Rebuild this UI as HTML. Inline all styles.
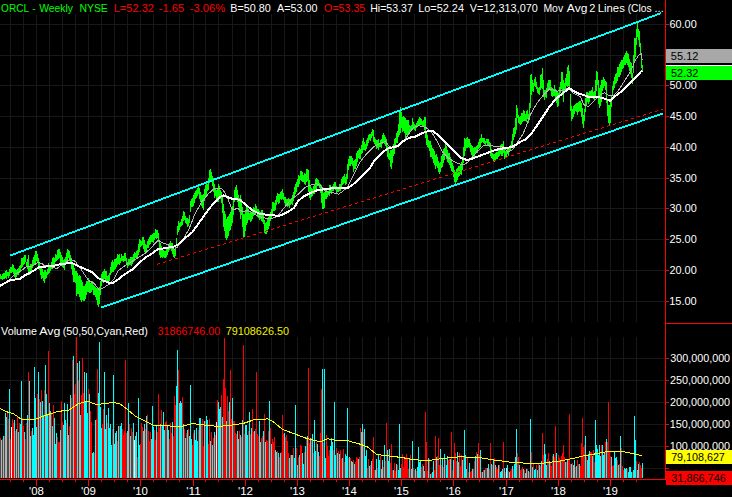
<!DOCTYPE html>
<html><head><meta charset="utf-8"><title>ORCL Weekly</title>
<style>html,body{margin:0;padding:0;background:#000;width:732px;height:497px;overflow:hidden}svg{display:block}
text{font-family:"Liberation Sans",sans-serif}</style></head>
<body><svg width="732" height="497" viewBox="0 0 732 497" shape-rendering="crispEdges"><path d="M0 24.5H665M0 55.5H665M0 85.5H665M0 116.5H665M0 147.5H665M0 178.5H665M0 208.5H665M0 239.5H665M0 270.5H665M0 301.5H665M0 358.5H665M0 380.5H665M0 402.5H665M0 424.5H665M0 446.5H665M0 468.5H665M10.5 14V322M10.5 337V478M23.5 14V322M23.5 337V478M36.5 14V322M36.5 337V478M49.5 14V322M49.5 337V478M62.5 14V322M62.5 337V478M75.5 14V322M75.5 337V478M88.5 14V322M88.5 337V478M101.5 14V322M101.5 337V478M114.5 14V322M114.5 337V478M127.5 14V322M127.5 337V478M140.5 14V322M140.5 337V478M153.5 14V322M153.5 337V478M166.5 14V322M166.5 337V478M179.5 14V322M179.5 337V478M193.5 14V322M193.5 337V478M205.5 14V322M205.5 337V478M218.5 14V322M218.5 337V478M232.5 14V322M232.5 337V478M245.5 14V322M245.5 337V478M258.5 14V322M258.5 337V478M271.5 14V322M271.5 337V478M284.5 14V322M284.5 337V478M297.5 14V322M297.5 337V478M310.5 14V322M310.5 337V478M323.5 14V322M323.5 337V478M336.5 14V322M336.5 337V478M349.5 14V322M349.5 337V478M362.5 14V322M362.5 337V478M375.5 14V322M375.5 337V478M388.5 14V322M388.5 337V478M401.5 14V322M401.5 337V478M414.5 14V322M414.5 337V478M427.5 14V322M427.5 337V478M440.5 14V322M440.5 337V478M453.5 14V322M453.5 337V478M466.5 14V322M466.5 337V478M479.5 14V322M479.5 337V478M493.5 14V322M493.5 337V478M506.5 14V322M506.5 337V478M519.5 14V322M519.5 337V478M532.5 14V322M532.5 337V478M545.5 14V322M545.5 337V478M558.5 14V322M558.5 337V478M571.5 14V322M571.5 337V478M584.5 14V322M584.5 337V478M597.5 14V322M597.5 337V478M610.5 14V322M610.5 337V478M623.5 14V322M623.5 337V478M636.5 14V322M636.5 337V478" stroke="#181818" stroke-width="1" fill="none"/><path d="M0.5 274V279M1.5 276V279M2.5 274V280M3.5 273V279M4.5 273V279M5.5 271V278M6.5 270V279M7.5 272V276M8.5 272V278M9.5 269V276M10.5 267V273M11.5 267V273M12.5 264V272M13.5 265V274M14.5 268V277M15.5 269V278M16.5 270V277M17.5 269V275M18.5 268V275M19.5 266V273M20.5 265V271M21.5 258V268M22.5 258V267M23.5 257V265M24.5 255V264M25.5 255V262M26.5 262V267M27.5 259V269M28.5 255V273M29.5 266V275M30.5 264V273M31.5 264V272M32.5 260V268M33.5 257V266M34.5 255V264M35.5 251V263M36.5 251V261M37.5 254V263M38.5 258V266M39.5 263V270M40.5 268V275M41.5 268V279M42.5 269V278M43.5 272V281M44.5 270V283M45.5 270V279M46.5 272V278M47.5 269V275M48.5 263V274M49.5 265V273M50.5 267V271M51.5 262V269M52.5 258V269M53.5 257V265M54.5 258V266M55.5 254V262M56.5 255V261M57.5 250V260M58.5 249V259M59.5 249V258M60.5 252V263M61.5 255V264M62.5 257V267M63.5 260V268M64.5 259V270M65.5 257V265M66.5 253V264M67.5 249V260M68.5 250V258M69.5 251V261M70.5 255V264M71.5 258V269M72.5 263V275M73.5 264V282M74.5 268V282M75.5 271V283M76.5 271V296M77.5 273V294M78.5 276V294M79.5 275V297M80.5 276V300M81.5 280V302M82.5 282V300M83.5 286V301M84.5 286V301M85.5 284V299M86.5 281V295M87.5 281V292M88.5 278V292M89.5 282V293M90.5 283V293M91.5 283V292M92.5 281V290M93.5 285V295M94.5 286V295M95.5 287V297M96.5 288V300M97.5 288V305M98.5 288V307M99.5 287V304M100.5 281V295M101.5 274V286M102.5 272V282M103.5 271V283M104.5 269V279M105.5 271V280M106.5 271V282M107.5 276V283M108.5 275V282M109.5 273V281M110.5 267V275M111.5 262V273M112.5 260V272M113.5 262V272M114.5 259V270M115.5 259V269M116.5 258V267M117.5 254V265M118.5 255V264M119.5 254V265M120.5 258V263M121.5 254V261M122.5 256V261M123.5 256V262M124.5 253V261M125.5 253V261M126.5 258V264M127.5 262V268M128.5 259V266M129.5 259V265M130.5 257V265M131.5 257V266M132.5 257V264M133.5 254V262M134.5 252V261M135.5 253V258M136.5 251V258M137.5 250V257M138.5 244V255M139.5 239V252M140.5 240V247M141.5 241V246M142.5 237V245M143.5 237V249M144.5 240V252M145.5 244V253M146.5 245V251M147.5 241V248M148.5 239V248M149.5 237V245M150.5 235V244M151.5 235V242M152.5 234V242M153.5 233V243M154.5 233V240M155.5 229V238M156.5 230V239M157.5 230V238M158.5 233V242M159.5 240V255M160.5 243V258M161.5 246V257M162.5 250V258M163.5 250V257M164.5 251V258M165.5 251V258M166.5 247V257M167.5 247V255M168.5 246V252M169.5 243V250M170.5 241V249M171.5 243V251M172.5 243V254M173.5 247V257M174.5 250V258M175.5 247V256M176.5 238V246M177.5 226V235M178.5 221V232M179.5 223V230M180.5 222V227M181.5 219V226M182.5 216V225M183.5 211V221M184.5 212V220M185.5 216V223M186.5 218V224M187.5 218V227M188.5 219V226M189.5 215V223M190.5 201V212M191.5 199V207M192.5 198V207M193.5 195V206M194.5 193V203M195.5 191V199M196.5 190V198M197.5 188V196M198.5 186V194M199.5 188V199M200.5 192V202M201.5 195V206M202.5 195V208M203.5 194V210M204.5 189V201M205.5 185V198M206.5 183V195M207.5 184V191M208.5 178V190M209.5 170V183M210.5 169V182M211.5 172V182M212.5 176V186M213.5 178V192M214.5 184V198M215.5 189V196M216.5 190V200M217.5 189V202M218.5 184V202M219.5 186V199M220.5 190V199M221.5 192V203M222.5 196V213M223.5 204V227M224.5 211V231M225.5 214V238M226.5 219V240M227.5 217V238M228.5 216V236M229.5 214V231M230.5 212V230M231.5 207V226M232.5 206V223M233.5 198V215M234.5 190V202M235.5 187V199M236.5 185V198M237.5 190V202M238.5 195V207M239.5 198V212M240.5 195V219M241.5 199V215M242.5 207V227M243.5 214V237M244.5 214V237M245.5 210V231M246.5 207V225M247.5 207V223M248.5 209V220M249.5 213V220M250.5 211V222M251.5 212V221M252.5 210V219M253.5 207V216M254.5 208V215M255.5 204V214M256.5 206V213M257.5 209V217M258.5 209V218M259.5 211V220M260.5 212V219M261.5 210V221M262.5 210V222M263.5 214V224M264.5 220V233M265.5 223V234M266.5 222V234M267.5 218V232M268.5 217V229M269.5 214V226M270.5 212V221M271.5 209V218M272.5 202V214M273.5 202V211M274.5 203V211M275.5 200V210M276.5 196V205M277.5 193V202M278.5 194V204M279.5 194V203M280.5 192V199M281.5 191V200M282.5 189V199M283.5 193V200M284.5 197V203M285.5 197V206M286.5 199V205M287.5 199V207M288.5 198V206M289.5 199V208M290.5 199V205M291.5 198V204M292.5 195V205M293.5 192V201M294.5 187V196M295.5 184V194M296.5 182V192M297.5 179V187M298.5 175V187M299.5 176V184M300.5 171V180M301.5 171V181M302.5 172V182M303.5 175V182M304.5 173V184M305.5 174V185M306.5 169V182M307.5 169V181M308.5 170V192M309.5 180V198M310.5 185V200M311.5 188V197M312.5 189V196M313.5 186V194M314.5 185V194M315.5 179V190M316.5 178V189M317.5 179V186M318.5 180V186M319.5 183V188M320.5 184V193M321.5 185V203M322.5 191V209M323.5 193V209M324.5 192V208M325.5 189V199M326.5 190V199M327.5 192V197M328.5 191V195M329.5 185V196M330.5 185V192M331.5 188V194M332.5 186V191M333.5 184V191M334.5 182V188M335.5 182V190M336.5 186V193M337.5 188V192M338.5 188V192M339.5 184V191M340.5 184V191M341.5 179V187M342.5 177V185M343.5 176V184M344.5 174V183M345.5 177V185M346.5 174V184M347.5 164V179M348.5 159V170M349.5 156V166M350.5 156V166M351.5 156V164M352.5 158V166M353.5 161V172M354.5 160V169M355.5 159V169M356.5 153V166M357.5 151V162M358.5 150V158M359.5 148V159M360.5 149V159M361.5 145V154M362.5 141V153M363.5 138V150M364.5 142V150M365.5 144V151M366.5 140V149M367.5 138V146M368.5 135V143M369.5 134V140M370.5 134V141M371.5 132V138M372.5 129V136M373.5 130V142M374.5 137V144M375.5 139V146M376.5 140V149M377.5 140V148M378.5 139V150M379.5 144V147M380.5 140V147M381.5 139V148M382.5 135V144M383.5 133V142M384.5 135V144M385.5 137V146M386.5 139V151M387.5 146V157M388.5 149V159M389.5 153V160M390.5 150V167M391.5 150V169M392.5 149V163M393.5 144V156M394.5 139V154M395.5 138V147M396.5 133V143M397.5 131V143M398.5 124V137M399.5 112V135M400.5 107V133M401.5 112V128M402.5 117V132M403.5 116V131M404.5 117V133M405.5 118V138M406.5 120V135M407.5 120V135M408.5 120V133M409.5 125V132M410.5 126V132M411.5 125V130M412.5 118V128M413.5 122V129M414.5 124V130M415.5 125V131M416.5 123V128M417.5 121V127M418.5 119V126M419.5 117V126M420.5 118V125M421.5 119V125M422.5 121V126M423.5 120V127M424.5 117V130M425.5 117V138M426.5 131V145M427.5 135V147M428.5 140V148M429.5 141V151M430.5 141V157M431.5 145V157M432.5 148V159M433.5 149V163M434.5 151V165M435.5 155V169M436.5 154V166M437.5 157V168M438.5 161V172M439.5 163V174M440.5 162V172M441.5 156V168M442.5 154V167M443.5 149V163M444.5 148V160M445.5 142V156M446.5 146V159M447.5 150V162M448.5 153V163M449.5 153V165M450.5 157V168M451.5 159V171M452.5 163V172M453.5 166V177M454.5 170V182M455.5 172V184M456.5 169V182M457.5 168V180M458.5 166V177M459.5 166V176M460.5 165V174M461.5 162V175M462.5 157V170M463.5 147V163M464.5 138V156M465.5 139V151M466.5 138V148M467.5 137V148M468.5 139V147M469.5 139V148M470.5 143V152M471.5 145V155M472.5 146V156M473.5 148V159M474.5 147V157M475.5 147V154M476.5 146V152M477.5 145V153M478.5 142V149M479.5 139V148M480.5 138V147M481.5 134V143M482.5 138V142M483.5 138V143M484.5 138V144M485.5 141V146M486.5 139V143M487.5 139V145M488.5 139V146M489.5 142V147M490.5 143V156M491.5 149V158M492.5 153V159M493.5 154V161M494.5 154V162M495.5 153V160M496.5 152V159M497.5 152V159M498.5 149V157M499.5 148V156M500.5 145V154M501.5 144V156M502.5 144V156M503.5 141V153M504.5 149V159M505.5 151V157M506.5 150V157M507.5 147V154M508.5 147V156M509.5 147V152M510.5 145V150M511.5 141V147M512.5 134V145M513.5 128V140M514.5 127V137M515.5 118V134M516.5 105V130M517.5 108V118M518.5 115V123M519.5 117V124M520.5 116V125M521.5 113V124M522.5 113V122M523.5 110V121M524.5 111V121M525.5 114V121M526.5 111V122M527.5 110V119M528.5 114V123M529.5 103V120M530.5 75V108M531.5 74V95M532.5 80V91M533.5 83V92M534.5 79V86M535.5 77V87M536.5 82V89M537.5 87V93M538.5 88V94M539.5 87V95M540.5 75V90M541.5 74V88M542.5 68V89M543.5 80V97M544.5 90V100M545.5 90V97M546.5 88V98M547.5 83V91M548.5 80V89M549.5 80V89M550.5 80V91M551.5 87V96M552.5 88V97M553.5 89V96M554.5 85V96M555.5 89V101M556.5 90V103M557.5 92V107M558.5 93V106M559.5 87V98M560.5 82V93M561.5 72V89M562.5 72V94M563.5 80V102M564.5 83V92M565.5 78V90M566.5 74V86M567.5 67V87M568.5 65V86M569.5 71V87M570.5 94V111M571.5 106V121M572.5 109V119M573.5 106V117M574.5 105V114M575.5 104V111M576.5 103V112M577.5 103V115M578.5 102V112M579.5 101V111M580.5 101V112M581.5 103V117M582.5 108V124M583.5 115V128M584.5 109V121M585.5 98V112M586.5 92V106M587.5 92V102M588.5 93V104M589.5 91V102M590.5 91V98M591.5 90V96M592.5 87V97M593.5 92V99M594.5 91V100M595.5 80V96M596.5 71V91M597.5 72V85M598.5 80V104M599.5 88V108M600.5 85V106M601.5 80V102M602.5 80V91M603.5 77V88M604.5 79V86M605.5 81V90M606.5 82V103M607.5 99V116M608.5 105V123M609.5 105V126M610.5 99V123M611.5 96V107M612.5 86V96M613.5 81V90M614.5 77V88M615.5 74V84M616.5 73V83M617.5 67V81M618.5 67V77M619.5 64V77M620.5 62V75M621.5 60V72M622.5 60V69M623.5 57V68M624.5 55V65M625.5 53V65M626.5 51V63M627.5 53V65M628.5 54V67M629.5 59V71M630.5 62V74M631.5 63V78M632.5 73V84M633.5 55V73M634.5 38V62M635.5 38V57M636.5 29V45M637.5 23V37M638.5 29V40M639.5 31V47M640.5 43V55M641.5 58V68M642.5 65V72" stroke="#00ff00" stroke-width="1" fill="none"/><polyline points="10.0,279.2 15.1,273.7 20.1,271.7 26.2,266.7 32.2,266.1 37.8,262.6 42.3,263.6 44.3,265.6 50.4,266.1 56.4,268.7 60.0,266.1 63.3,264.0 70.0,259.3 75.3,261.3 80.6,268.6 88.5,280.5 93.9,283.2 99.2,289.8 104.5,287.2 109.8,283.8 113.8,279.2 118.0,271.0 125.0,265.5 132.1,261.3 139.1,257.1 144.8,253.5 150.4,248.6 158.1,240.2 163.0,243.0 168.7,245.1 174.3,249.3 177.2,247.2 182.4,240.6 188.9,229.3 195.3,213.2 201.7,202.0 208.2,193.9 214.6,188.3 222.6,189.1 227.4,197.2 231.5,208.4 234.0,209.8 237.2,208.2 242.0,211.4 248.5,210.6 254.9,214.7 261.3,217.1 267.8,218.7 274.2,217.9 279.0,214.7 283.8,208.2 288.7,202.6 292.0,199.0 298.4,194.1 304.9,187.7 309.7,185.3 316.1,183.7 320.9,186.1 325.8,191.7 332.2,192.5 338.6,194.1 343.4,190.9 347.5,186.9 352.0,178.0 359.6,162.5 366.1,154.5 374.1,146.4 380.5,143.2 385.4,141.6 389.4,146.4 393.4,148.1 398.2,146.4 403.1,141.6 406.3,137.6 410.0,132.0 413.4,127.6 418.9,125.8 426.1,127.6 431.6,132.2 437.0,141.2 442.4,152.1 447.9,157.5 453.3,161.2 458.7,163.9 464.2,164.5 468.0,162.1 472.4,156.9 477.3,151.3 483.7,145.6 490.1,145.6 496.5,146.4 503.0,146.4 507.8,152.1 512.6,149.7 517.4,142.4 522.3,135.2 526.0,127.2 530.4,114.5 536.9,103.2 543.3,95.2 549.7,88.8 556.2,91.2 562.6,90.4 568.2,88.0 573.8,93.6 580.3,96.8 584.0,104.8 588.4,106.4 594.9,100.0 599.7,95.2 604.5,92.8 609.3,96.0 614.2,95.2 619.3,89.2 625.4,79.5 630.5,71.5 635.4,60.2 638.6,55.4 641.5,53.8 642.1,60.0" stroke="#b4b4b4" stroke-width="1" fill="none"/><polyline points="0.0,285.8 10.0,280.2 20.0,278.7 25.2,275.2 30.2,272.7 35.2,269.7 38.8,267.2 43.3,266.7 50.4,266.1 54.4,265.6 58.0,264.6 64.0,263.8 71.3,262.6 75.3,264.6 80.6,267.2 87.2,269.9 92.5,272.6 97.8,277.9 103.2,280.5 108.5,282.5 112.4,283.2 118.0,279.5 125.0,274.0 132.1,269.7 139.1,262.7 146.2,257.1 153.2,252.8 157.4,249.3 160.3,248.9 167.3,247.9 174.3,246.5 178.0,244.5 184.0,239.0 192.1,232.5 200.1,221.3 208.2,210.0 214.6,202.0 219.4,197.2 223.4,195.5 227.4,197.2 232.3,198.8 236.0,198.9 240.4,200.2 246.9,205.8 253.3,210.6 259.7,213.9 266.2,214.7 272.6,214.7 277.4,216.3 282.2,214.7 288.7,211.4 294.0,208.0 298.4,200.6 304.9,195.7 311.3,192.5 317.7,190.1 324.2,189.3 330.6,188.5 337.0,187.7 343.4,188.0 348.3,187.7 352.0,185.3 358.0,180.0 364.5,173.5 369.3,169.0 374.1,160.9 378.9,156.1 383.8,151.3 388.6,148.1 393.4,147.3 398.2,145.6 401.4,142.4 406.3,139.2 410.0,137.6 415.2,136.7 422.5,133.1 427.9,131.3 433.4,131.3 438.8,135.8 444.2,141.2 449.7,146.7 455.1,152.1 460.5,157.5 464.2,159.3 468.0,159.9 472.4,158.5 478.9,156.1 485.3,153.7 491.7,151.3 498.2,149.3 504.6,148.1 511.0,147.3 515.8,144.8 520.7,141.6 526.0,139.2 530.4,134.9 536.9,125.7 543.3,116.1 549.7,106.4 556.2,98.4 562.6,93.6 569.0,88.0 573.8,91.2 578.7,93.6 584.0,95.2 588.4,96.8 594.9,97.1 601.3,97.6 606.1,99.2 610.1,100.8 614.2,96.8 620.6,92.0 627.0,86.4 632.2,81.1 637.0,76.3 640.2,72.3 642.1,70.7" stroke="#ffffff" stroke-width="2" fill="none" stroke-linejoin="round"/><path d="M10.5 254v2M11.5 254v2M12.5 254v2M13.5 253v2M14.5 253v2M15.5 253v2M16.5 252v2M17.5 252v2M18.5 251v2M19.5 251v2M20.5 251v2M21.5 250v2M22.5 250v2M23.5 250v2M24.5 249v2M25.5 249v2M26.5 248v2M27.5 248v2M28.5 248v2M29.5 247v2M30.5 247v2M31.5 247v2M32.5 246v2M33.5 246v2M34.5 246v2M35.5 245v2M36.5 245v2M37.5 244v2M38.5 244v2M39.5 244v2M40.5 243v2M41.5 243v2M42.5 243v2M43.5 242v2M44.5 242v2M45.5 241v2M46.5 241v2M47.5 241v2M48.5 240v2M49.5 240v2M50.5 240v2M51.5 239v2M52.5 239v2M53.5 238v2M54.5 238v2M55.5 238v2M56.5 237v2M57.5 237v2M58.5 237v2M59.5 236v2M60.5 236v2M61.5 235v2M62.5 235v2M63.5 235v2M64.5 234v2M65.5 234v2M66.5 234v2M67.5 233v2M68.5 233v2M69.5 232v2M70.5 232v2M71.5 232v2M72.5 231v2M73.5 231v2M74.5 231v2M75.5 230v2M76.5 230v2M77.5 229v2M78.5 229v2M79.5 229v2M80.5 228v2M81.5 228v2M82.5 228v2M83.5 227v2M84.5 227v2M85.5 227v2M86.5 226v2M87.5 226v2M88.5 225v2M89.5 225v2M90.5 225v2M91.5 224v2M92.5 224v2M93.5 224v2M94.5 223v2M95.5 223v2M96.5 222v2M97.5 222v2M98.5 222v2M99.5 221v2M100.5 221v2M101.5 221v2M102.5 220v2M103.5 220v2M104.5 219v2M105.5 219v2M106.5 219v2M107.5 218v2M108.5 218v2M109.5 218v2M110.5 217v2M111.5 217v2M112.5 216v2M113.5 216v2M114.5 216v2M115.5 215v2M116.5 215v2M117.5 215v2M118.5 214v2M119.5 214v2M120.5 213v2M121.5 213v2M122.5 213v2M123.5 212v2M124.5 212v2M125.5 212v2M126.5 211v2M127.5 211v2M128.5 211v2M129.5 210v2M130.5 210v2M131.5 209v2M132.5 209v2M133.5 209v2M134.5 208v2M135.5 208v2M136.5 208v2M137.5 207v2M138.5 207v2M139.5 206v2M140.5 206v2M141.5 206v2M142.5 205v2M143.5 205v2M144.5 205v2M145.5 204v2M146.5 204v2M147.5 203v2M148.5 203v2M149.5 203v2M150.5 202v2M151.5 202v2M152.5 202v2M153.5 201v2M154.5 201v2M155.5 200v2M156.5 200v2M157.5 200v2M158.5 199v2M159.5 199v2M160.5 199v2M161.5 198v2M162.5 198v2M163.5 197v2M164.5 197v2M165.5 197v2M166.5 196v2M167.5 196v2M168.5 196v2M169.5 195v2M170.5 195v2M171.5 194v2M172.5 194v2M173.5 194v2M174.5 193v2M175.5 193v2M176.5 193v2M177.5 192v2M178.5 192v2M179.5 192v2M180.5 191v2M181.5 191v2M182.5 190v2M183.5 190v2M184.5 190v2M185.5 189v2M186.5 189v2M187.5 189v2M188.5 188v2M189.5 188v2M190.5 187v2M191.5 187v2M192.5 187v2M193.5 186v2M194.5 186v2M195.5 186v2M196.5 185v2M197.5 185v2M198.5 184v2M199.5 184v2M200.5 184v2M201.5 183v2M202.5 183v2M203.5 183v2M204.5 182v2M205.5 182v2M206.5 181v2M207.5 181v2M208.5 181v2M209.5 180v2M210.5 180v2M211.5 180v2M212.5 179v2M213.5 179v2M214.5 178v2M215.5 178v2M216.5 178v2M217.5 177v2M218.5 177v2M219.5 177v2M220.5 176v2M221.5 176v2M222.5 175v2M223.5 175v2M224.5 175v2M225.5 174v2M226.5 174v2M227.5 174v2M228.5 173v2M229.5 173v2M230.5 173v2M231.5 172v2M232.5 172v2M233.5 171v2M234.5 171v2M235.5 171v2M236.5 170v2M237.5 170v2M238.5 170v2M239.5 169v2M240.5 169v2M241.5 168v2M242.5 168v2M243.5 168v2M244.5 167v2M245.5 167v2M246.5 167v2M247.5 166v2M248.5 166v2M249.5 165v2M250.5 165v2M251.5 165v2M252.5 164v2M253.5 164v2M254.5 164v2M255.5 163v2M256.5 163v2M257.5 162v2M258.5 162v2M259.5 162v2M260.5 161v2M261.5 161v2M262.5 161v2M263.5 160v2M264.5 160v2M265.5 159v2M266.5 159v2M267.5 159v2M268.5 158v2M269.5 158v2M270.5 158v2M271.5 157v2M272.5 157v2M273.5 157v2M274.5 156v2M275.5 156v2M276.5 155v2M277.5 155v2M278.5 155v2M279.5 154v2M280.5 154v2M281.5 154v2M282.5 153v2M283.5 153v2M284.5 152v2M285.5 152v2M286.5 152v2M287.5 151v2M288.5 151v2M289.5 151v2M290.5 150v2M291.5 150v2M292.5 149v2M293.5 149v2M294.5 149v2M295.5 148v2M296.5 148v2M297.5 148v2M298.5 147v2M299.5 147v2M300.5 146v2M301.5 146v2M302.5 146v2M303.5 145v2M304.5 145v2M305.5 145v2M306.5 144v2M307.5 144v2M308.5 143v2M309.5 143v2M310.5 143v2M311.5 142v2M312.5 142v2M313.5 142v2M314.5 141v2M315.5 141v2M316.5 140v2M317.5 140v2M318.5 140v2M319.5 139v2M320.5 139v2M321.5 139v2M322.5 138v2M323.5 138v2M324.5 138v2M325.5 137v2M326.5 137v2M327.5 136v2M328.5 136v2M329.5 136v2M330.5 135v2M331.5 135v2M332.5 135v2M333.5 134v2M334.5 134v2M335.5 133v2M336.5 133v2M337.5 133v2M338.5 132v2M339.5 132v2M340.5 132v2M341.5 131v2M342.5 131v2M343.5 130v2M344.5 130v2M345.5 130v2M346.5 129v2M347.5 129v2M348.5 129v2M349.5 128v2M350.5 128v2M351.5 127v2M352.5 127v2M353.5 127v2M354.5 126v2M355.5 126v2M356.5 126v2M357.5 125v2M358.5 125v2M359.5 124v2M360.5 124v2M361.5 124v2M362.5 123v2M363.5 123v2M364.5 123v2M365.5 122v2M366.5 122v2M367.5 121v2M368.5 121v2M369.5 121v2M370.5 120v2M371.5 120v2M372.5 120v2M373.5 119v2M374.5 119v2M375.5 119v2M376.5 118v2M377.5 118v2M378.5 117v2M379.5 117v2M380.5 117v2M381.5 116v2M382.5 116v2M383.5 116v2M384.5 115v2M385.5 115v2M386.5 114v2M387.5 114v2M388.5 114v2M389.5 113v2M390.5 113v2M391.5 113v2M392.5 112v2M393.5 112v2M394.5 111v2M395.5 111v2M396.5 111v2M397.5 110v2M398.5 110v2M399.5 110v2M400.5 109v2M401.5 109v2M402.5 108v2M403.5 108v2M404.5 108v2M405.5 107v2M406.5 107v2M407.5 107v2M408.5 106v2M409.5 106v2M410.5 105v2M411.5 105v2M412.5 105v2M413.5 104v2M414.5 104v2M415.5 104v2M416.5 103v2M417.5 103v2M418.5 103v2M419.5 102v2M420.5 102v2M421.5 101v2M422.5 101v2M423.5 101v2M424.5 100v2M425.5 100v2M426.5 100v2M427.5 99v2M428.5 99v2M429.5 98v2M430.5 98v2M431.5 98v2M432.5 97v2M433.5 97v2M434.5 97v2M435.5 96v2M436.5 96v2M437.5 95v2M438.5 95v2M439.5 95v2M440.5 94v2M441.5 94v2M442.5 94v2M443.5 93v2M444.5 93v2M445.5 92v2M446.5 92v2M447.5 92v2M448.5 91v2M449.5 91v2M450.5 91v2M451.5 90v2M452.5 90v2M453.5 89v2M454.5 89v2M455.5 89v2M456.5 88v2M457.5 88v2M458.5 88v2M459.5 87v2M460.5 87v2M461.5 86v2M462.5 86v2M463.5 86v2M464.5 85v2M465.5 85v2M466.5 85v2M467.5 84v2M468.5 84v2M469.5 84v2M470.5 83v2M471.5 83v2M472.5 82v2M473.5 82v2M474.5 82v2M475.5 81v2M476.5 81v2M477.5 81v2M478.5 80v2M479.5 80v2M480.5 79v2M481.5 79v2M482.5 79v2M483.5 78v2M484.5 78v2M485.5 78v2M486.5 77v2M487.5 77v2M488.5 76v2M489.5 76v2M490.5 76v2M491.5 75v2M492.5 75v2M493.5 75v2M494.5 74v2M495.5 74v2M496.5 73v2M497.5 73v2M498.5 73v2M499.5 72v2M500.5 72v2M501.5 72v2M502.5 71v2M503.5 71v2M504.5 70v2M505.5 70v2M506.5 70v2M507.5 69v2M508.5 69v2M509.5 69v2M510.5 68v2M511.5 68v2M512.5 67v2M513.5 67v2M514.5 67v2M515.5 66v2M516.5 66v2M517.5 66v2M518.5 65v2M519.5 65v2M520.5 65v2M521.5 64v2M522.5 64v2M523.5 63v2M524.5 63v2M525.5 63v2M526.5 62v2M527.5 62v2M528.5 62v2M529.5 61v2M530.5 61v2M531.5 60v2M532.5 60v2M533.5 60v2M534.5 59v2M535.5 59v2M536.5 59v2M537.5 58v2M538.5 58v2M539.5 57v2M540.5 57v2M541.5 57v2M542.5 56v2M543.5 56v2M544.5 56v2M545.5 55v2M546.5 55v2M547.5 54v2M548.5 54v2M549.5 54v2M550.5 53v2M551.5 53v2M552.5 53v2M553.5 52v2M554.5 52v2M555.5 51v2M556.5 51v2M557.5 51v2M558.5 50v2M559.5 50v2M560.5 50v2M561.5 49v2M562.5 49v2M563.5 48v2M564.5 48v2M565.5 48v2M566.5 47v2M567.5 47v2M568.5 47v2M569.5 46v2M570.5 46v2M571.5 46v2M572.5 45v2M573.5 45v2M574.5 44v2M575.5 44v2M576.5 44v2M577.5 43v2M578.5 43v2M579.5 43v2M580.5 42v2M581.5 42v2M582.5 41v2M583.5 41v2M584.5 41v2M585.5 40v2M586.5 40v2M587.5 40v2M588.5 39v2M589.5 39v2M590.5 38v2M591.5 38v2M592.5 38v2M593.5 37v2M594.5 37v2M595.5 37v2M596.5 36v2M597.5 36v2M598.5 35v2M599.5 35v2M600.5 35v2M601.5 34v2M602.5 34v2M603.5 34v2M604.5 33v2M605.5 33v2M606.5 32v2M607.5 32v2M608.5 32v2M609.5 31v2M610.5 31v2M611.5 31v2M612.5 30v2M613.5 30v2M614.5 30v2M615.5 29v2M616.5 29v2M617.5 28v2M618.5 28v2M619.5 28v2M620.5 27v2M621.5 27v2M622.5 27v2M623.5 26v2M624.5 26v2M625.5 25v2M626.5 25v2M627.5 25v2M628.5 24v2M629.5 24v2M630.5 24v2M631.5 23v2M632.5 23v2M633.5 22v2M634.5 22v2M635.5 22v2M636.5 21v2M637.5 21v2M638.5 21v2M639.5 20v2M640.5 20v2M641.5 19v2M642.5 19v2M643.5 19v2M644.5 18v2M645.5 18v2M646.5 18v2M647.5 17v2M648.5 17v2M649.5 16v2M650.5 16v2M651.5 16v2M652.5 15v2M653.5 15v2M654.5 15v2M655.5 14v2M656.5 14v2M657.5 13v2M658.5 13v2M659.5 13v2M660.5 12v2M101.5 306v2M102.5 306v2M103.5 306v2M104.5 305v2M105.5 305v2M106.5 305v2M107.5 304v2M108.5 304v2M109.5 304v2M110.5 303v2M111.5 303v2M112.5 303v2M113.5 302v2M114.5 302v2M115.5 302v2M116.5 301v2M117.5 301v2M118.5 301v2M119.5 300v2M120.5 300v2M121.5 299v2M122.5 299v2M123.5 299v2M124.5 298v2M125.5 298v2M126.5 298v2M127.5 297v2M128.5 297v2M129.5 297v2M130.5 296v2M131.5 296v2M132.5 296v2M133.5 295v2M134.5 295v2M135.5 295v2M136.5 294v2M137.5 294v2M138.5 294v2M139.5 293v2M140.5 293v2M141.5 293v2M142.5 292v2M143.5 292v2M144.5 292v2M145.5 291v2M146.5 291v2M147.5 291v2M148.5 290v2M149.5 290v2M150.5 289v2M151.5 289v2M152.5 289v2M153.5 288v2M154.5 288v2M155.5 288v2M156.5 287v2M157.5 287v2M158.5 287v2M159.5 286v2M160.5 286v2M161.5 286v2M162.5 285v2M163.5 285v2M164.5 285v2M165.5 284v2M166.5 284v2M167.5 284v2M168.5 283v2M169.5 283v2M170.5 283v2M171.5 282v2M172.5 282v2M173.5 282v2M174.5 281v2M175.5 281v2M176.5 280v2M177.5 280v2M178.5 280v2M179.5 279v2M180.5 279v2M181.5 279v2M182.5 278v2M183.5 278v2M184.5 278v2M185.5 277v2M186.5 277v2M187.5 277v2M188.5 276v2M189.5 276v2M190.5 276v2M191.5 275v2M192.5 275v2M193.5 275v2M194.5 274v2M195.5 274v2M196.5 274v2M197.5 273v2M198.5 273v2M199.5 273v2M200.5 272v2M201.5 272v2M202.5 272v2M203.5 271v2M204.5 271v2M205.5 270v2M206.5 270v2M207.5 270v2M208.5 269v2M209.5 269v2M210.5 269v2M211.5 268v2M212.5 268v2M213.5 268v2M214.5 267v2M215.5 267v2M216.5 267v2M217.5 266v2M218.5 266v2M219.5 266v2M220.5 265v2M221.5 265v2M222.5 265v2M223.5 264v2M224.5 264v2M225.5 264v2M226.5 263v2M227.5 263v2M228.5 263v2M229.5 262v2M230.5 262v2M231.5 261v2M232.5 261v2M233.5 261v2M234.5 260v2M235.5 260v2M236.5 260v2M237.5 259v2M238.5 259v2M239.5 259v2M240.5 258v2M241.5 258v2M242.5 258v2M243.5 257v2M244.5 257v2M245.5 257v2M246.5 256v2M247.5 256v2M248.5 256v2M249.5 255v2M250.5 255v2M251.5 255v2M252.5 254v2M253.5 254v2M254.5 254v2M255.5 253v2M256.5 253v2M257.5 253v2M258.5 252v2M259.5 252v2M260.5 251v2M261.5 251v2M262.5 251v2M263.5 250v2M264.5 250v2M265.5 250v2M266.5 249v2M267.5 249v2M268.5 249v2M269.5 248v2M270.5 248v2M271.5 248v2M272.5 247v2M273.5 247v2M274.5 247v2M275.5 246v2M276.5 246v2M277.5 246v2M278.5 245v2M279.5 245v2M280.5 245v2M281.5 244v2M282.5 244v2M283.5 244v2M284.5 243v2M285.5 243v2M286.5 242v2M287.5 242v2M288.5 242v2M289.5 241v2M290.5 241v2M291.5 241v2M292.5 240v2M293.5 240v2M294.5 240v2M295.5 239v2M296.5 239v2M297.5 239v2M298.5 238v2M299.5 238v2M300.5 238v2M301.5 237v2M302.5 237v2M303.5 237v2M304.5 236v2M305.5 236v2M306.5 236v2M307.5 235v2M308.5 235v2M309.5 235v2M310.5 234v2M311.5 234v2M312.5 234v2M313.5 233v2M314.5 233v2M315.5 232v2M316.5 232v2M317.5 232v2M318.5 231v2M319.5 231v2M320.5 231v2M321.5 230v2M322.5 230v2M323.5 230v2M324.5 229v2M325.5 229v2M326.5 229v2M327.5 228v2M328.5 228v2M329.5 228v2M330.5 227v2M331.5 227v2M332.5 227v2M333.5 226v2M334.5 226v2M335.5 226v2M336.5 225v2M337.5 225v2M338.5 225v2M339.5 224v2M340.5 224v2M341.5 223v2M342.5 223v2M343.5 223v2M344.5 222v2M345.5 222v2M346.5 222v2M347.5 221v2M348.5 221v2M349.5 221v2M350.5 220v2M351.5 220v2M352.5 220v2M353.5 219v2M354.5 219v2M355.5 219v2M356.5 218v2M357.5 218v2M358.5 218v2M359.5 217v2M360.5 217v2M361.5 217v2M362.5 216v2M363.5 216v2M364.5 216v2M365.5 215v2M366.5 215v2M367.5 215v2M368.5 214v2M369.5 214v2M370.5 213v2M371.5 213v2M372.5 213v2M373.5 212v2M374.5 212v2M375.5 212v2M376.5 211v2M377.5 211v2M378.5 211v2M379.5 210v2M380.5 210v2M381.5 210v2M382.5 209v2M383.5 209v2M384.5 209v2M385.5 208v2M386.5 208v2M387.5 208v2M388.5 207v2M389.5 207v2M390.5 207v2M391.5 206v2M392.5 206v2M393.5 206v2M394.5 205v2M395.5 205v2M396.5 204v2M397.5 204v2M398.5 204v2M399.5 203v2M400.5 203v2M401.5 203v2M402.5 202v2M403.5 202v2M404.5 202v2M405.5 201v2M406.5 201v2M407.5 201v2M408.5 200v2M409.5 200v2M410.5 200v2M411.5 199v2M412.5 199v2M413.5 199v2M414.5 198v2M415.5 198v2M416.5 198v2M417.5 197v2M418.5 197v2M419.5 197v2M420.5 196v2M421.5 196v2M422.5 195v2M423.5 195v2M424.5 195v2M425.5 194v2M426.5 194v2M427.5 194v2M428.5 193v2M429.5 193v2M430.5 193v2M431.5 192v2M432.5 192v2M433.5 192v2M434.5 191v2M435.5 191v2M436.5 191v2M437.5 190v2M438.5 190v2M439.5 190v2M440.5 189v2M441.5 189v2M442.5 189v2M443.5 188v2M444.5 188v2M445.5 188v2M446.5 187v2M447.5 187v2M448.5 187v2M449.5 186v2M450.5 186v2M451.5 185v2M452.5 185v2M453.5 185v2M454.5 184v2M455.5 184v2M456.5 184v2M457.5 183v2M458.5 183v2M459.5 183v2M460.5 182v2M461.5 182v2M462.5 182v2M463.5 181v2M464.5 181v2M465.5 181v2M466.5 180v2M467.5 180v2M468.5 180v2M469.5 179v2M470.5 179v2M471.5 179v2M472.5 178v2M473.5 178v2M474.5 178v2M475.5 177v2M476.5 177v2M477.5 176v2M478.5 176v2M479.5 176v2M480.5 175v2M481.5 175v2M482.5 175v2M483.5 174v2M484.5 174v2M485.5 174v2M486.5 173v2M487.5 173v2M488.5 173v2M489.5 172v2M490.5 172v2M491.5 172v2M492.5 171v2M493.5 171v2M494.5 171v2M495.5 170v2M496.5 170v2M497.5 170v2M498.5 169v2M499.5 169v2M500.5 169v2M501.5 168v2M502.5 168v2M503.5 168v2M504.5 167v2M505.5 167v2M506.5 166v2M507.5 166v2M508.5 166v2M509.5 165v2M510.5 165v2M511.5 165v2M512.5 164v2M513.5 164v2M514.5 164v2M515.5 163v2M516.5 163v2M517.5 163v2M518.5 162v2M519.5 162v2M520.5 162v2M521.5 161v2M522.5 161v2M523.5 161v2M524.5 160v2M525.5 160v2M526.5 160v2M527.5 159v2M528.5 159v2M529.5 159v2M530.5 158v2M531.5 158v2M532.5 157v2M533.5 157v2M534.5 157v2M535.5 156v2M536.5 156v2M537.5 156v2M538.5 155v2M539.5 155v2M540.5 155v2M541.5 154v2M542.5 154v2M543.5 154v2M544.5 153v2M545.5 153v2M546.5 153v2M547.5 152v2M548.5 152v2M549.5 152v2M550.5 151v2M551.5 151v2M552.5 151v2M553.5 150v2M554.5 150v2M555.5 150v2M556.5 149v2M557.5 149v2M558.5 149v2M559.5 148v2M560.5 148v2M561.5 147v2M562.5 147v2M563.5 147v2M564.5 146v2M565.5 146v2M566.5 146v2M567.5 145v2M568.5 145v2M569.5 145v2M570.5 144v2M571.5 144v2M572.5 144v2M573.5 143v2M574.5 143v2M575.5 143v2M576.5 142v2M577.5 142v2M578.5 142v2M579.5 141v2M580.5 141v2M581.5 141v2M582.5 140v2M583.5 140v2M584.5 140v2M585.5 139v2M586.5 139v2M587.5 138v2M588.5 138v2M589.5 138v2M590.5 137v2M591.5 137v2M592.5 137v2M593.5 136v2M594.5 136v2M595.5 136v2M596.5 135v2M597.5 135v2M598.5 135v2M599.5 134v2M600.5 134v2M601.5 134v2M602.5 133v2M603.5 133v2M604.5 133v2M605.5 132v2M606.5 132v2M607.5 132v2M608.5 131v2M609.5 131v2M610.5 131v2M611.5 130v2M612.5 130v2M613.5 130v2M614.5 129v2M615.5 129v2M616.5 128v2M617.5 128v2M618.5 128v2M619.5 127v2M620.5 127v2M621.5 127v2M622.5 126v2M623.5 126v2M624.5 126v2M625.5 125v2M626.5 125v2M627.5 125v2M628.5 124v2M629.5 124v2M630.5 124v2M631.5 123v2M632.5 123v2M633.5 123v2M634.5 122v2M635.5 122v2M636.5 122v2M637.5 121v2M638.5 121v2M639.5 121v2M640.5 120v2M641.5 120v2M642.5 119v2M643.5 119v2M644.5 119v2M645.5 118v2M646.5 118v2M647.5 118v2M648.5 117v2M649.5 117v2M650.5 117v2M651.5 116v2M652.5 116v2M653.5 116v2M654.5 115v2M655.5 115v2M656.5 115v2M657.5 114v2M658.5 114v2M659.5 114v2M660.5 113v2M661.5 113v2M662.5 113v2" stroke="#00ffff" stroke-width="1" fill="none"/><path d="M157 264.5h1M158 263.5h1M159 263.5h1M163 262.5h1M164 262.5h1M165 261.5h1M169 260.5h1M170 260.5h1M171 259.5h1M175 258.5h1M176 258.5h1M177 258.5h1M181 256.5h1M182 256.5h1M183 256.5h1M187 255.5h1M188 254.5h1M189 254.5h1M193 253.5h1M194 252.5h1M195 252.5h1M199 251.5h1M200 251.5h1M201 250.5h1M205 249.5h1M206 249.5h1M207 248.5h1M211 247.5h1M212 247.5h1M213 247.5h1M217 245.5h1M218 245.5h1M219 245.5h1M223 244.5h1M224 243.5h1M225 243.5h1M229 242.5h1M230 241.5h1M231 241.5h1M235 240.5h1M236 240.5h1M237 239.5h1M241 238.5h1M242 238.5h1M243 237.5h1M247 236.5h1M248 236.5h1M249 236.5h1M253 234.5h1M254 234.5h1M255 234.5h1M259 232.5h1M260 232.5h1M261 232.5h1M265 231.5h1M266 230.5h1M267 230.5h1M271 229.5h1M272 229.5h1M273 228.5h1M277 227.5h1M278 227.5h1M279 226.5h1M283 225.5h1M284 225.5h1M285 225.5h1M289 223.5h1M290 223.5h1M291 223.5h1M295 221.5h1M296 221.5h1M297 221.5h1M301 220.5h1M302 219.5h1M303 219.5h1M307 218.5h1M308 217.5h1M309 217.5h1M313 216.5h1M314 216.5h1M315 215.5h1M319 214.5h1M320 214.5h1M321 213.5h1M325 212.5h1M326 212.5h1M327 212.5h1M331 210.5h1M332 210.5h1M333 210.5h1M337 209.5h1M338 208.5h1M339 208.5h1M343 207.5h1M344 206.5h1M345 206.5h1M349 205.5h1M350 205.5h1M351 204.5h1M355 203.5h1M356 203.5h1M357 202.5h1M361 201.5h1M362 201.5h1M363 201.5h1M367 199.5h1M368 199.5h1M369 199.5h1M373 198.5h1M374 197.5h1M375 197.5h1M379 196.5h1M380 195.5h1M381 195.5h1M385 194.5h1M386 194.5h1M387 193.5h1M391 192.5h1M392 192.5h1M393 191.5h1M397 190.5h1M398 190.5h1M399 190.5h1M403 188.5h1M404 188.5h1M405 188.5h1M409 186.5h1M410 186.5h1M411 186.5h1M415 185.5h1M416 184.5h1M417 184.5h1M421 183.5h1M422 182.5h1M423 182.5h1M427 181.5h1M428 181.5h1M429 180.5h1M433 179.5h1M434 179.5h1M435 178.5h1M439 177.5h1M440 177.5h1M441 177.5h1M445 175.5h1M446 175.5h1M447 175.5h1M451 174.5h1M452 173.5h1M453 173.5h1M457 172.5h1M458 171.5h1M459 171.5h1M463 170.5h1M464 170.5h1M465 169.5h1M469 168.5h1M470 168.5h1M471 167.5h1M475 166.5h1M476 166.5h1M477 166.5h1M481 164.5h1M482 164.5h1M483 164.5h1M487 163.5h1M488 162.5h1M489 162.5h1M493 161.5h1M494 160.5h1M495 160.5h1M499 159.5h1M500 159.5h1M501 158.5h1M505 157.5h1M506 157.5h1M507 156.5h1M511 155.5h1M512 155.5h1M513 155.5h1M517 153.5h1M518 153.5h1M519 153.5h1M523 151.5h1M524 151.5h1M525 151.5h1M529 150.5h1M530 149.5h1M531 149.5h1M535 148.5h1M536 147.5h1M537 147.5h1M541 146.5h1M542 146.5h1M543 145.5h1M547 144.5h1M548 144.5h1M549 143.5h1M553 142.5h1M554 142.5h1M555 142.5h1M559 140.5h1M560 140.5h1M561 140.5h1M565 139.5h1M566 138.5h1M567 138.5h1M571 137.5h1M572 136.5h1M573 136.5h1M577 135.5h1M578 135.5h1M579 134.5h1M583 133.5h1M584 133.5h1M585 132.5h1M589 131.5h1M590 131.5h1M591 131.5h1M595 129.5h1M596 129.5h1M597 129.5h1M601 128.5h1M602 127.5h1M603 127.5h1M607 126.5h1M608 125.5h1M609 125.5h1M613 124.5h1M614 124.5h1M615 123.5h1M619 122.5h1M620 122.5h1M621 121.5h1M625 120.5h1M626 120.5h1M627 120.5h1M631 118.5h1M632 118.5h1M633 118.5h1M637 116.5h1M638 116.5h1M639 116.5h1M643 115.5h1M644 114.5h1M645 114.5h1M649 113.5h1M650 112.5h1M651 112.5h1M655 111.5h1M656 111.5h1M657 110.5h1M661 109.5h1M662 109.5h1" stroke="#ff0000" stroke-width="1" fill="none"/><path d="M1.5 440V478M3.5 436V478M5.5 413V478M6.5 417V478M9.5 389V478M14.5 420V478M16.5 429V478M18.5 432V478M20.5 424V478M21.5 381V478M24.5 432V478M27.5 415V478M29.5 381V478M30.5 436V478M32.5 428V478M33.5 435V478M34.5 367V478M35.5 398V478M36.5 427V478M38.5 372V478M40.5 402V478M42.5 401V478M43.5 415V478M45.5 365V478M46.5 394V478M47.5 415V478M49.5 403V478M50.5 411V478M52.5 426V478M54.5 418V478M55.5 444V478M56.5 433V478M60.5 430V478M63.5 425V478M64.5 403V478M65.5 420V478M67.5 404V478M68.5 435V478M70.5 395V478M73.5 356V478M77.5 363V478M79.5 361V478M80.5 415V478M84.5 372V478M85.5 401V478M86.5 373V478M87.5 413V478M89.5 394V478M92.5 453V478M93.5 452V478M95.5 420V478M98.5 393V478M99.5 342V478M100.5 407V478M101.5 428V478M104.5 372V478M105.5 429V478M106.5 415V478M108.5 408V478M109.5 428V478M110.5 424V478M111.5 445V478M113.5 375V478M114.5 444V478M115.5 433V478M116.5 431V478M118.5 426V478M120.5 426V478M121.5 423V478M127.5 431V478M128.5 403V478M130.5 436V478M133.5 423V478M135.5 436V478M136.5 432V478M138.5 398V478M139.5 445V478M143.5 431V478M144.5 424V478M146.5 416V478M151.5 439V478M152.5 406V478M153.5 427V478M156.5 426V478M160.5 424V478M162.5 426V478M163.5 412V478M164.5 430V478M167.5 426V478M168.5 430V478M172.5 422V478M176.5 386V478M177.5 350V478M179.5 403V478M180.5 401V478M181.5 403V478M183.5 424V478M185.5 438V478M187.5 430V478M189.5 436V478M190.5 385V478M191.5 439V478M194.5 430V478M195.5 440V478M196.5 428V478M197.5 441V478M199.5 418V478M200.5 418V478M204.5 421V478M206.5 416V478M207.5 420V478M210.5 441V478M212.5 445V478M214.5 432V478M218.5 402V478M219.5 409V478M220.5 407V478M222.5 417V478M226.5 421V478M229.5 402V478M232.5 398V478M237.5 431V478M238.5 439V478M240.5 435V478M242.5 420V478M245.5 425V478M246.5 425V478M247.5 435V478M249.5 412V478M251.5 428V478M254.5 431V478M259.5 421V478M260.5 442V478M263.5 431V478M265.5 442V478M269.5 401V478M271.5 444V478M275.5 450V478M276.5 452V478M278.5 453V478M280.5 453V478M284.5 433V478M289.5 458V478M291.5 455V478M292.5 455V478M294.5 458V478M295.5 405V478M297.5 465V478M299.5 455V478M302.5 453V478M303.5 464V478M305.5 446V478M307.5 436V478M310.5 438V478M312.5 434V478M314.5 420V478M315.5 451V478M317.5 444V478M318.5 452V478M322.5 369V478M324.5 369V478M325.5 458V478M330.5 446V478M331.5 438V478M332.5 442V478M334.5 402V478M335.5 455V478M337.5 453V478M339.5 454V478M342.5 458V478M345.5 454V478M346.5 456V478M347.5 408V478M349.5 457V478M351.5 461V478M352.5 462V478M354.5 464V478M358.5 459V478M361.5 432V478M362.5 424V478M364.5 429V478M365.5 456V478M366.5 450V478M369.5 466V478M371.5 461V478M375.5 470V478M376.5 459V478M378.5 454V478M379.5 460V478M381.5 469V478M382.5 460V478M384.5 445V478M387.5 450V478M388.5 461V478M389.5 449V478M393.5 470V478M396.5 464V478M398.5 470V478M399.5 424V478M400.5 468V478M409.5 458V478M411.5 469V478M412.5 441V478M415.5 469V478M417.5 467V478M418.5 447V478M419.5 462V478M420.5 460V478M423.5 466V478M424.5 471V478M428.5 458V478M430.5 474V478M432.5 472V478M433.5 461V478M436.5 457V478M440.5 449V478M442.5 459V478M444.5 454V478M446.5 465V478M447.5 456V478M450.5 459V478M453.5 460V478M457.5 452V478M458.5 462V478M462.5 460V478M464.5 430V478M465.5 455V478M466.5 469V478M469.5 463V478M472.5 469V478M475.5 456V478M477.5 454V478M480.5 450V478M482.5 472V478M484.5 470V478M487.5 468V478M488.5 464V478M491.5 464V478M493.5 459V478M495.5 465V478M498.5 465V478M500.5 472V478M501.5 471V478M502.5 469V478M504.5 468V478M507.5 465V478M509.5 472V478M512.5 466V478M514.5 464V478M515.5 457V478M516.5 429V478M519.5 465V478M523.5 469V478M525.5 473V478M526.5 469V478M528.5 471V478M530.5 419V478M532.5 467V478M534.5 470V478M535.5 469V478M537.5 470V478M539.5 465V478M541.5 461V478M544.5 444V478M545.5 454V478M546.5 465V478M549.5 461V478M553.5 454V478M556.5 453V478M560.5 460V478M565.5 462V478M567.5 459V478M571.5 464V478M573.5 465V478M574.5 460V478M576.5 466V478M579.5 464V478M585.5 436V478M587.5 460V478M588.5 454V478M589.5 451V478M592.5 456V478M595.5 420V478M596.5 445V478M597.5 449V478M598.5 455V478M599.5 445V478M600.5 456V478M602.5 445V478M603.5 455V478M604.5 452V478M606.5 439V478M611.5 457V478M614.5 451V478M615.5 458V478M616.5 457V478M618.5 465V478M620.5 436V478M624.5 468V478M625.5 469V478M626.5 468V478M628.5 472V478M629.5 467V478M630.5 467V478M631.5 472V478M633.5 470V478M634.5 416V478M635.5 440V478M637.5 470V478M638.5 464V478M642.5 463V478" stroke="#00ffff" stroke-width="1" fill="none"/><path d="M0.5 438V478M2.5 439V478M4.5 436V478M7.5 413V478M8.5 419V478M10.5 439V478M12.5 419V478M13.5 423V478M15.5 431V478M17.5 416V478M19.5 423V478M22.5 418V478M23.5 426V478M25.5 439V478M26.5 423V478M28.5 372V478M31.5 431V478M37.5 394V478M39.5 399V478M41.5 390V478M44.5 390V478M48.5 351V478M51.5 413V478M53.5 405V478M57.5 437V478M58.5 442V478M59.5 442V478M61.5 401V478M62.5 422V478M66.5 423V478M69.5 426V478M71.5 398V478M72.5 360V478M74.5 394V478M75.5 384V478M76.5 337V478M78.5 380V478M81.5 395V478M82.5 358V478M83.5 393V478M88.5 389V478M90.5 411V478M91.5 422V478M94.5 453V478M96.5 419V478M97.5 369V478M102.5 424V478M103.5 409V478M107.5 423V478M112.5 429V478M117.5 441V478M119.5 426V478M122.5 429V478M123.5 435V478M124.5 431V478M125.5 360V478M126.5 433V478M129.5 424V478M131.5 428V478M132.5 432V478M137.5 457V478M140.5 444V478M141.5 423V478M142.5 427V478M145.5 429V478M147.5 415V478M148.5 431V478M149.5 441V478M150.5 432V478M154.5 430V478M155.5 440V478M157.5 432V478M158.5 394V478M159.5 428V478M161.5 410V478M165.5 422V478M166.5 421V478M169.5 439V478M170.5 423V478M171.5 433V478M173.5 436V478M174.5 396V478M175.5 405V478M178.5 370V478M182.5 397V478M184.5 429V478M186.5 433V478M188.5 429V478M192.5 445V478M193.5 433V478M198.5 430V478M201.5 425V478M202.5 419V478M203.5 446V478M205.5 421V478M208.5 444V478M209.5 419V478M211.5 432V478M213.5 438V478M215.5 435V478M217.5 400V478M221.5 395V478M223.5 379V478M224.5 338V478M225.5 388V478M227.5 396V478M228.5 411V478M230.5 370V478M231.5 419V478M233.5 421V478M234.5 421V478M235.5 433V478M236.5 434V478M239.5 431V478M241.5 437V478M243.5 345V478M244.5 434V478M248.5 431V478M250.5 434V478M252.5 409V478M253.5 432V478M255.5 429V478M256.5 372V478M257.5 434V478M258.5 436V478M261.5 438V478M262.5 436V478M264.5 414V478M266.5 440V478M267.5 441V478M268.5 431V478M270.5 428V478M272.5 439V478M273.5 442V478M274.5 437V478M277.5 451V478M279.5 457V478M281.5 452V478M282.5 415V478M283.5 434V478M285.5 437V478M286.5 435V478M287.5 441V478M288.5 453V478M290.5 455V478M293.5 448V478M296.5 448V478M298.5 457V478M300.5 445V478M301.5 446V478M304.5 452V478M306.5 437V478M308.5 368V478M309.5 443V478M311.5 438V478M313.5 453V478M316.5 442V478M319.5 456V478M320.5 433V478M321.5 389V478M323.5 443V478M326.5 435V478M327.5 446V478M328.5 456V478M329.5 450V478M333.5 450V478M336.5 448V478M338.5 451V478M340.5 450V478M341.5 459V478M343.5 449V478M344.5 462V478M348.5 458V478M350.5 458V478M353.5 460V478M355.5 462V478M356.5 457V478M357.5 458V478M359.5 457V478M360.5 428V478M363.5 432V478M367.5 468V478M368.5 459V478M370.5 465V478M372.5 459V478M373.5 437V478M374.5 470V478M377.5 468V478M380.5 456V478M383.5 467V478M385.5 461V478M386.5 423V478M390.5 463V478M391.5 444V478M392.5 470V478M394.5 463V478M395.5 471V478M397.5 465V478M401.5 464V478M402.5 454V478M403.5 467V478M404.5 457V478M405.5 457V478M406.5 454V478M407.5 459V478M408.5 469V478M410.5 455V478M413.5 468V478M414.5 470V478M416.5 471V478M421.5 467V478M422.5 464V478M425.5 412V478M426.5 442V478M427.5 471V478M429.5 459V478M431.5 473V478M434.5 470V478M435.5 436V478M437.5 456V478M438.5 438V478M439.5 465V478M441.5 465V478M443.5 467V478M445.5 460V478M448.5 460V478M449.5 459V478M451.5 432V478M452.5 470V478M454.5 443V478M455.5 453V478M456.5 461V478M459.5 453V478M460.5 466V478M461.5 455V478M463.5 456V478M467.5 457V478M468.5 472V478M470.5 472V478M471.5 471V478M473.5 469V478M474.5 461V478M476.5 452V478M478.5 443V478M479.5 455V478M481.5 472V478M483.5 470V478M485.5 468V478M486.5 468V478M489.5 469V478M490.5 443V478M492.5 465V478M494.5 458V478M496.5 467V478M497.5 469V478M499.5 465V478M503.5 442V478M505.5 472V478M508.5 471V478M510.5 471V478M511.5 469V478M513.5 469V478M517.5 453V478M518.5 457V478M520.5 470V478M521.5 469V478M522.5 467V478M524.5 470V478M527.5 469V478M529.5 472V478M531.5 452V478M533.5 464V478M536.5 465V478M538.5 464V478M540.5 466V478M542.5 433V478M543.5 455V478M547.5 459V478M548.5 453V478M550.5 462V478M551.5 466V478M552.5 456V478M554.5 457V478M555.5 426V478M557.5 461V478M558.5 455V478M559.5 458V478M561.5 456V478M562.5 453V478M563.5 445V478M564.5 457V478M566.5 462V478M568.5 459V478M569.5 414V478M570.5 464V478M572.5 463V478M575.5 467V478M577.5 460V478M578.5 464V478M580.5 466V478M581.5 443V478M582.5 418V478M583.5 447V478M584.5 445V478M586.5 457V478M590.5 452V478M591.5 452V478M593.5 450V478M594.5 462V478M601.5 445V478M605.5 442V478M607.5 442V478M608.5 402V478M609.5 451V478M610.5 456V478M612.5 466V478M613.5 465V478M617.5 460V478M619.5 464V478M621.5 448V478M622.5 466V478M623.5 470V478M627.5 469V478M632.5 472V478M636.5 461V478M639.5 462V478M640.5 465V478M641.5 468V478" stroke="#ff0000" stroke-width="1" fill="none"/><path d="M11.5 427V478M134.5 440V478M216.5 422V478M506.5 468V478" stroke="#ffffff" stroke-width="1" fill="none"/><polyline points="0.0,408.6 6.0,411.6 13.5,413.7 21.0,419.1 36.0,419.1 45.0,415.5 57.0,411.6 69.1,410.0 78.1,404.0 87.2,401.0 96.2,404.6 105.2,403.4 114.2,402.5 120.2,404.0 126.2,408.6 135.3,416.1 144.3,420.6 153.3,425.1 165.3,425.7 180.3,426.6 192.4,423.6 204.4,425.1 220.0,426.6 220.0,426.6 222.6,426.1 235.1,424.6 244.6,423.0 254.0,419.8 268.1,418.9 272.8,421.4 282.3,429.3 294.8,434.0 307.4,438.7 320.0,441.8 327.8,438.7 335.7,440.3 348.2,440.9 357.7,443.4 367.1,446.6 376.5,454.4 389.1,456.0 401.6,457.5 414.2,459.7 426.8,460.7 442.8,458.4 458.9,456.8 478.2,457.4 494.2,460.0 510.3,462.2 526.3,463.2 542.4,463.2 558.4,461.3 574.5,458.1 584.1,455.8 596.9,453.6 609.8,451.0 622.6,451.6 635.5,454.2 641.9,455.8" stroke="#ffff00" stroke-width="1" fill="none"/><rect x="665" y="0" width="1" height="480" fill="#ff0000"/><rect x="0" y="479" width="666" height="1" fill="#ff0000"/><rect x="665" y="323" width="67" height="1" fill="#ff0000"/><g fill="#ff0000"><rect x="666" y="24" width="3" height="1"/><rect x="666" y="55" width="3" height="1"/><rect x="666" y="85" width="3" height="1"/><rect x="666" y="116" width="3" height="1"/><rect x="666" y="147" width="3" height="1"/><rect x="666" y="178" width="3" height="1"/><rect x="666" y="208" width="3" height="1"/><rect x="666" y="239" width="3" height="1"/><rect x="666" y="270" width="3" height="1"/><rect x="666" y="301" width="3" height="1"/><rect x="666" y="358" width="3" height="1"/><rect x="666" y="380" width="3" height="1"/><rect x="666" y="402" width="3" height="1"/><rect x="666" y="424" width="3" height="1"/><rect x="666" y="446" width="3" height="1"/><rect x="666" y="468" width="3" height="1"/><rect x="10" y="480" width="1" height="2"/><rect x="23" y="480" width="1" height="2"/><rect x="36" y="480" width="1" height="6"/><rect x="49" y="480" width="1" height="2"/><rect x="62" y="480" width="1" height="2"/><rect x="75" y="480" width="1" height="2"/><rect x="88" y="480" width="1" height="6"/><rect x="101" y="480" width="1" height="2"/><rect x="114" y="480" width="1" height="2"/><rect x="127" y="480" width="1" height="2"/><rect x="140" y="480" width="1" height="6"/><rect x="153" y="480" width="1" height="2"/><rect x="166" y="480" width="1" height="2"/><rect x="179" y="480" width="1" height="2"/><rect x="193" y="480" width="1" height="6"/><rect x="205" y="480" width="1" height="2"/><rect x="218" y="480" width="1" height="2"/><rect x="232" y="480" width="1" height="2"/><rect x="245" y="480" width="1" height="6"/><rect x="258" y="480" width="1" height="2"/><rect x="271" y="480" width="1" height="2"/><rect x="284" y="480" width="1" height="2"/><rect x="297" y="480" width="1" height="6"/><rect x="310" y="480" width="1" height="2"/><rect x="323" y="480" width="1" height="2"/><rect x="336" y="480" width="1" height="2"/><rect x="349" y="480" width="1" height="6"/><rect x="362" y="480" width="1" height="2"/><rect x="375" y="480" width="1" height="2"/><rect x="388" y="480" width="1" height="2"/><rect x="401" y="480" width="1" height="6"/><rect x="414" y="480" width="1" height="2"/><rect x="427" y="480" width="1" height="2"/><rect x="440" y="480" width="1" height="2"/><rect x="453" y="480" width="1" height="6"/><rect x="466" y="480" width="1" height="2"/><rect x="479" y="480" width="1" height="2"/><rect x="493" y="480" width="1" height="2"/><rect x="506" y="480" width="1" height="6"/><rect x="519" y="480" width="1" height="2"/><rect x="532" y="480" width="1" height="2"/><rect x="545" y="480" width="1" height="2"/><rect x="558" y="480" width="1" height="6"/><rect x="571" y="480" width="1" height="2"/><rect x="584" y="480" width="1" height="2"/><rect x="597" y="480" width="1" height="2"/><rect x="610" y="480" width="1" height="6"/><rect x="623" y="480" width="1" height="2"/><rect x="636" y="480" width="1" height="2"/></g><rect x="666" y="49" width="66" height="14" fill="#a8a8a8"/><rect x="666" y="65" width="66" height="1" fill="#ffffff"/><rect x="666" y="66" width="66" height="14" fill="#00ff00"/><rect x="666" y="450" width="66" height="14" fill="#ffff00"/><rect x="666" y="471" width="66" height="14" fill="#ff0000"/><g font-family="Liberation Sans, sans-serif" font-size="11" shape-rendering="auto"><text x="669.45" y="28" fill="#ffffff" textLength="27.28" lengthAdjust="spacingAndGlyphs">60.00</text><text x="669.57" y="89" fill="#ffffff" textLength="27.16" lengthAdjust="spacingAndGlyphs">50.00</text><text x="669.75" y="120" fill="#ffffff" textLength="26.97" lengthAdjust="spacingAndGlyphs">45.00</text><text x="669.75" y="151" fill="#ffffff" textLength="26.97" lengthAdjust="spacingAndGlyphs">40.00</text><text x="669.59" y="182" fill="#ffffff" textLength="27.14" lengthAdjust="spacingAndGlyphs">35.00</text><text x="669.59" y="212" fill="#ffffff" textLength="27.14" lengthAdjust="spacingAndGlyphs">30.00</text><text x="669.45" y="243" fill="#ffffff" textLength="27.27" lengthAdjust="spacingAndGlyphs">25.00</text><text x="669.45" y="274" fill="#ffffff" textLength="27.27" lengthAdjust="spacingAndGlyphs">20.00</text><text x="669.16" y="305" fill="#ffffff" textLength="27.57" lengthAdjust="spacingAndGlyphs">15.00</text><text x="670.19" y="362" fill="#ffffff" textLength="59.93" lengthAdjust="spacingAndGlyphs">300,000,000</text><text x="670.06" y="384" fill="#ffffff" textLength="60.07" lengthAdjust="spacingAndGlyphs">250,000,000</text><text x="670.06" y="406" fill="#ffffff" textLength="60.07" lengthAdjust="spacingAndGlyphs">200,000,000</text><text x="669.77" y="428" fill="#ffffff" textLength="60.35" lengthAdjust="spacingAndGlyphs">150,000,000</text><text x="669.77" y="450" fill="#ffffff" textLength="60.35" lengthAdjust="spacingAndGlyphs">100,000,000</text><text x="29.02" y="495" fill="#ffffff" textLength="14.88" lengthAdjust="spacingAndGlyphs">'08</text><text x="81.02" y="495" fill="#ffffff" textLength="14.92" lengthAdjust="spacingAndGlyphs">'09</text><text x="133.02" y="495" fill="#ffffff" textLength="14.82" lengthAdjust="spacingAndGlyphs">'10</text><text x="186.23" y="495" fill="#ffffff" textLength="14.51" lengthAdjust="spacingAndGlyphs">'11</text><text x="238.02" y="495" fill="#ffffff" textLength="14.96" lengthAdjust="spacingAndGlyphs">'12</text><text x="290.02" y="495" fill="#ffffff" textLength="14.88" lengthAdjust="spacingAndGlyphs">'13</text><text x="342.03" y="495" fill="#ffffff" textLength="14.70" lengthAdjust="spacingAndGlyphs">'14</text><text x="394.02" y="495" fill="#ffffff" textLength="14.86" lengthAdjust="spacingAndGlyphs">'15</text><text x="446.02" y="495" fill="#ffffff" textLength="14.88" lengthAdjust="spacingAndGlyphs">'16</text><text x="499.02" y="495" fill="#ffffff" textLength="14.96" lengthAdjust="spacingAndGlyphs">'17</text><text x="551.02" y="495" fill="#ffffff" textLength="14.88" lengthAdjust="spacingAndGlyphs">'18</text><text x="603.02" y="495" fill="#ffffff" textLength="14.92" lengthAdjust="spacingAndGlyphs">'19</text><text x="670.86" y="60" fill="#000000" textLength="27.49" lengthAdjust="spacingAndGlyphs">55.12</text><text x="671.06" y="77" fill="#000000" textLength="27.28" lengthAdjust="spacingAndGlyphs">52.32</text><text x="671.15" y="461" fill="#000000" textLength="53.69" lengthAdjust="spacingAndGlyphs">79,108,627</text><text x="671.29" y="482" fill="#000000" textLength="54.49" lengthAdjust="spacingAndGlyphs">31,866,746</text><text x="1.12" y="12" fill="#00ff00" textLength="27.91" lengthAdjust="spacingAndGlyphs">ORCL</text><text x="32.36" y="12" fill="#00ff00" textLength="3.27" lengthAdjust="spacingAndGlyphs">-</text><text x="39.25" y="12" fill="#00ff00" textLength="33.77" lengthAdjust="spacingAndGlyphs">Weekly</text><text x="79.44" y="12" fill="#00ff00" textLength="28.40" lengthAdjust="spacingAndGlyphs">NYSE</text><text x="113.69" y="12" fill="#ff0000" textLength="40.26" lengthAdjust="spacingAndGlyphs">L=52.32</text><text x="158.70" y="12" fill="#ff0000" textLength="25.57" lengthAdjust="spacingAndGlyphs">-1.65</text><text x="189.80" y="12" fill="#ff0000" textLength="35.39" lengthAdjust="spacingAndGlyphs">-3.06%</text><text x="230.31" y="12" fill="#ffffff" textLength="40.51" lengthAdjust="spacingAndGlyphs">B=50.80</text><text x="277.08" y="12" fill="#ffffff" textLength="40.44" lengthAdjust="spacingAndGlyphs">A=53.00</text><text x="324.10" y="12" fill="#ff0000" textLength="41.15" lengthAdjust="spacingAndGlyphs">O=53.35</text><text x="370.23" y="12" fill="#ffffff" textLength="42.60" lengthAdjust="spacingAndGlyphs">Hi=53.37</text><text x="418.20" y="12" fill="#ffffff" textLength="45.81" lengthAdjust="spacingAndGlyphs">Lo=52.24</text><text x="469.85" y="12" fill="#ffffff" textLength="67.97" lengthAdjust="spacingAndGlyphs">V=12,313,070</text><text x="543.44" y="12" fill="#ffffff" textLength="19.69" lengthAdjust="spacingAndGlyphs">Mov</text><text x="566.88" y="12" fill="#ffffff" textLength="20.49" lengthAdjust="spacingAndGlyphs">Avg</text><text x="589.25" y="12" fill="#ffffff" textLength="6.10" lengthAdjust="spacingAndGlyphs">2</text><text x="597.77" y="12" fill="#ffffff" textLength="27.04" lengthAdjust="spacingAndGlyphs">Lines</text><text x="627.66" y="12" fill="#ffffff" textLength="23.91" lengthAdjust="spacingAndGlyphs">(Clos</text><text x="654.60" y="12" fill="#ffffff" textLength="9.09" lengthAdjust="spacingAndGlyphs">...</text><text x="1.05" y="335" fill="#ffffff" textLength="36.02" lengthAdjust="spacingAndGlyphs">Volume</text><text x="39.28" y="335" fill="#ffffff" textLength="21.11" lengthAdjust="spacingAndGlyphs">Avg</text><text x="62.73" y="335" fill="#ffffff" textLength="85.14" lengthAdjust="spacingAndGlyphs">(50,50,Cyan,Red)</text><text x="157.49" y="335" fill="#ff0000" textLength="62.73" lengthAdjust="spacingAndGlyphs">31866746.00</text><text x="225.74" y="335" fill="#f0f000" textLength="63.28" lengthAdjust="spacingAndGlyphs">79108626.50</text></g></svg></body></html>
